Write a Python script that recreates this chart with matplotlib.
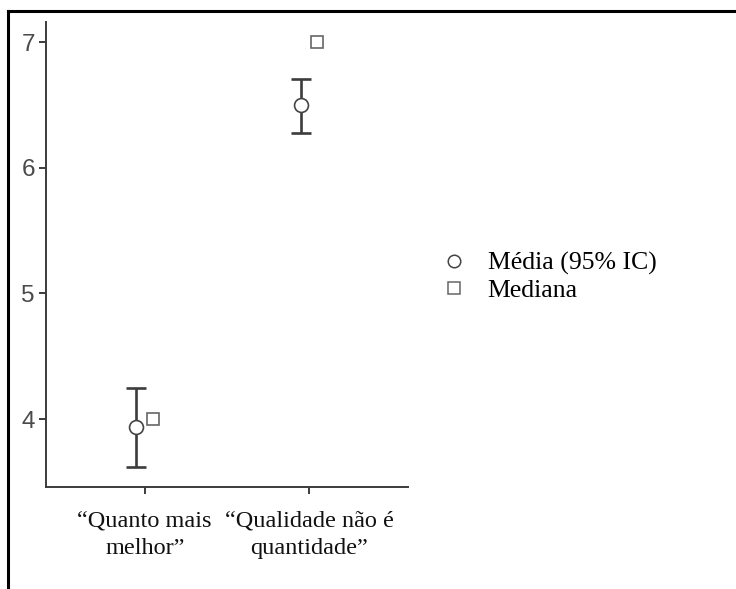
import matplotlib
matplotlib.use("Agg")
import matplotlib.pyplot as plt
from matplotlib.lines import Line2D
import numpy as np

categories = ["\u201cQuanto mais\nmelhor\u201d", "\u201cQualidade não é\nquantidade\u201d"]
means = [3.94, 6.50]
ci_low = [3.62, 6.28]
ci_high = [4.25, 6.71]
medians = [4.0, 7.0]
yticks = [4, 5, 6, 7]

fig = plt.figure(figsize=(7.36, 5.89), dpi=100)
ax = fig.add_axes([46/736, 1-487/589, (408-46)/736, (487-22)/589])

x = np.arange(1, len(categories) + 1)
off = 0.05
dark = "#3c3c3c"
means_arr = np.array(means)
yerr = np.array([means_arr - np.array(ci_low), np.array(ci_high) - means_arr])
ax.errorbar(x - off, means, yerr=yerr, fmt="none", ecolor=dark, elinewidth=1.9,
            capsize=7, capthick=1.9, zorder=2)
ax.plot(x - off, means, linestyle="none", marker="o", markersize=10,
        markerfacecolor="white", markeredgecolor="#444444", markeredgewidth=1.2, zorder=3)
ax.plot(x + off, medians, linestyle="none", marker="s", markersize=8.5,
        markerfacecolor="white", markeredgecolor="#666666", markeredgewidth=1.2, zorder=3)

ax.set_xlim(0.4, 2.6)
ax.set_ylim(3.46, 7.16)
ax.set_xticks(x)
ax.set_xticklabels(categories, family=["Liberation Serif", "DejaVu Serif"], fontsize=17.5,
                   color="#111111", linespacing=1.4)
ax.set_yticks(yticks)
ax.set_yticklabels([str(v) for v in yticks], family=["Liberation Sans", "DejaVu Sans"],
                   fontsize=17.5, color="#4a4a4a")
for s in ["top", "right"]:
    ax.spines[s].set_visible(False)
for s in ["left", "bottom"]:
    ax.spines[s].set_color(dark)
    ax.spines[s].set_linewidth(1.4)
ax.tick_params(axis="both", direction="out", length=5, width=1.4, color=dark)
ax.tick_params(axis="x", pad=12)
ax.tick_params(axis="y", pad=3)

handles = [
    Line2D([], [], linestyle="none", marker="o", markersize=9, markerfacecolor="white",
           markeredgecolor="#444444", markeredgewidth=1.1),
    Line2D([], [], linestyle="none", marker="s", markersize=8, markerfacecolor="white",
           markeredgecolor="#666666", markeredgewidth=1.1),
]
fig.legend(handles, ["Média (95% IC)", "Mediana"], loc="center left",
           bbox_to_anchor=(417/736, 1-277/589), frameon=False,
           prop={"family": ["Liberation Serif", "DejaVu Serif"], "size": 18.5},
           handletextpad=0.75, labelspacing=0.15, handlelength=1.1)

# outer frame lines (top and left)
fig.add_artist(Line2D([8/736, 1.0], [1-11/589, 1-11/589], transform=fig.transFigure,
                      color="black", linewidth=2.2))
fig.add_artist(Line2D([8/736, 8/736], [0, 1-11/589], transform=fig.transFigure,
                      color="black", linewidth=2.2))

fig.savefig("out.png", dpi=100)
